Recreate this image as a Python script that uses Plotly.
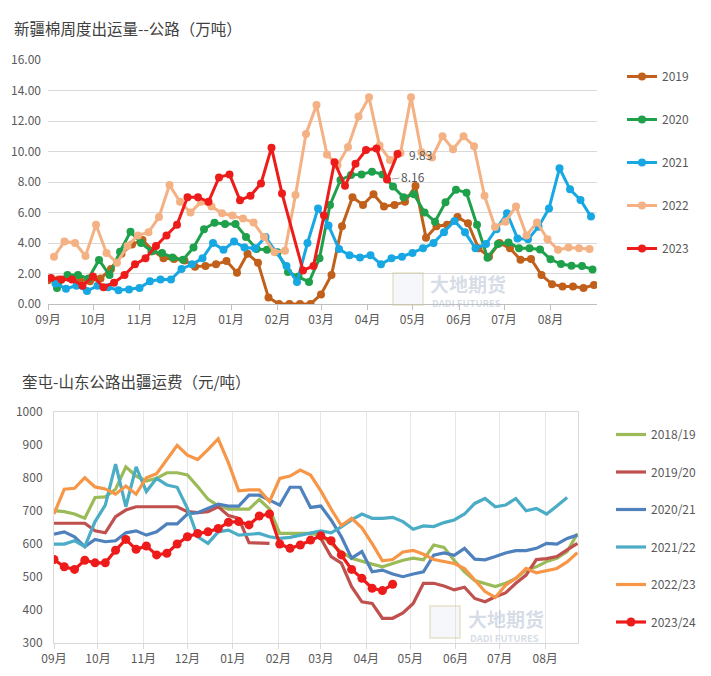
import plotly.graph_objects as go
import pandas as pd

W, H = 711, 676

# ---------------- top chart data (万吨, weekly) ----------------
top_names = ["2019", "2020", "2021", "2022", "2023"]
top_colors = ["#C0601A", "#1FA04B", "#17A8E3", "#F4B183", "#EE1B1B"]
top_start = ["2023-09-01", "2023-09-07", "2023-09-06", "2023-09-05", "2023-09-03"]

y2019 = [1.55, 1.6, 1.7, 1.6, 1.5, 1.68, 2.3, 3.3, 3.9, 4.2,
         3.5, 3.0, 2.95, 2.85, 2.45, 2.5, 2.6, 2.82, 2.05, 3.3,
         2.7, 0.42, 0, 0, 0, 0, 0.63, 1.9, 5.1, 7.0,
         6.5, 7.2, 6.4, 6.5, 6.7, 7.74, 4.35, 5.1, 5.2, 5.7,
         5.3, 3.65, 3.1, 4.0, 3.65, 2.9, 2.95, 1.9, 1.3, 1.15,
         1.15, 1.05, 1.25]
y2020 = [1.05, 1.9, 1.9, 1.68, 2.89, 1.9, 3.43, 4.74, 4.0, 3.45,
         3.35, 3.05, 2.9, 3.7, 4.9, 5.33, 5.25, 5.25, 4.4, 3.6,
         3.55, 3.4, 2.1, 1.8, 1.45, 3.0, 6.5, 8.13, 8.46, 8.5,
         8.68, 8.5, 7.7, 7.0, 7.2, 6.0, 5.4, 6.67, 7.5, 7.3,
         5.2, 3.04, 3.93, 4.04, 3.65, 3.65, 3.58, 2.93, 2.62, 2.51,
         2.49, 2.27]
y2021 = [1.35, 1.0, 1.2, 0.85, 1.2, 1.1, 0.9, 0.95, 1.05, 1.5,
         1.6, 1.6, 2.3, 2.6, 3.0, 4.0, 3.55, 4.1, 3.7, 3.65,
         4.4, 3.4, 2.5, 1.45, 4.0, 6.27, 5.15, 3.6, 3.2, 3.05,
         3.2, 2.6, 3.0, 3.1, 3.35, 3.65, 4.0, 4.7, 5.45, 4.7,
         3.65, 3.93, 4.9, 5.95, 4.3, 4.24, 5.07, 6.27, 8.9, 7.52,
         6.82, 5.73]
y2022 = [3.1, 4.1, 4.0, 3.15, 5.2, 3.35, 2.7, 3.8, 4.5, 4.7,
         5.7, 7.8, 6.7, 6.0, 6.7, 6.4, 5.95, 5.8, 5.6, 5.35,
         4.4, 3.4, 3.5, 7.15, 11.15, 13.05, 9.8, 9.1, 10.3, 12.3,
         13.55, 10.4, 9.45, 9.9, 13.55, 9.95, 9.6, 11.0, 10.15, 11.0,
         10.35, 7.1, 5.05, 5.4, 6.4, 4.5, 5.35, 4.25, 3.55, 3.7,
         3.65, 3.6]
y2023 = [1.7, 1.6, 1.6, 1.2, 1.8, 1.1, 1.4, 1.9, 2.6, 3.0,
         3.8, 4.5, 5.2, 7.0, 7.0, 6.7, 8.3, 8.5, 6.8, 7.1,
         7.9, 10.25, 7.25, None, 2.2, 2.5, 5.8, 9.3, 7.75, 9.2,
         10.1, 10.2, 8.16, 9.83]
top_values = [y2019, y2020, y2021, y2022, y2023]

# ---------------- bottom chart data (元/吨, weekly) ----------------
bot_names = ["2018/19", "2019/20", "2020/21", "2021/22", "2022/23", "2023/24"]
bot_colors = ["#9BBB59", "#C0504D", "#4F81BD", "#4BACC6", "#F79646", "#EE1B1B"]
bot_start = "2023-09-01"

b1819 = [700, 697, 690, 677, 740, 742, 765, 833, 805, 790,
         798, 815, 815, 808, 773, 735, 715, 705, 705, 705,
         734, 705, 631, 631, 631, 631, 625, 600, 575, 556,
         546, 538, 530, 540, 550, 556, 551, 596, 589, 549,
         515, 488, 480, 470, 480, 495, 520, 530, 546, 556,
         576, 631]
b1920 = [662, 662, 664, 662, 639, 633, 682, 702, 712, 712,
         710, 710, 712, 697, 694, 697, 712, 685, 677, 603,
         601, 601, None, None, None, None, 616, 561, 541, 470,
         424, 419, 374, 374, 390, 419, 480, 480, 472, 460,
         468, 434, 424, 439, 451, 480, 505, 552, 555, 561,
         581, 601]
b2021 = [629, 636, 621, 591, 613, 606, 609, 633, 639, 626,
         636, 660, 660, 690, 694, 707, 720, 714, 714, 747,
         747, 732, 717, 771, 771, 710, 714, 672, 621, 556,
         576, 515, 520, 508, 500, 508, 515, 565, 572, 565,
         586, 553, 551, 561, 572, 579, 579, 586, 601, 599,
         616, 626]
b2122 = [599, 599, 609, 591, 667, 717, 841, 712, 833, 758,
         798, 778, 771, 707, 621, 601, 636, 641, 626, 629,
         631, 621, 616, 619, 626, 634, 639, 633, 651, 672,
         690, 677, 677, 680, 667, 644, 654, 652, 664, 672,
         690, 722, 737, 712, 717, 737, 700, 707, 690, 714,
         740]
b2223 = [690, 765, 768, 800, 772, 766, 750, 775, 750, 800,
         812, 855, 898, 868, 855, 885, 918, 845, 760, 763,
         763, 728, 798, 805, 823, 808, 760, 705, 655, 677,
         648, 600, 548, 552, 575, 580, 568, 552, 545, 540,
         525, 490, 455, 437, 474, 495, 525, 512, 518, 525,
         545, 573]
b2324 = [552, 530, 522, 550, 542, 542, 580, 613, 583, 593,
         566, 571, 599, 621, 631, 636, 646, 665, 667, 657,
         684, 690, 599, 586, 596, 611, 624, 609, 566, 522,
         495, 465, 458, 477]
bot_values = [b1819, b1920, b2021, b2122, b2223, b2324]

month_ticks = ["2023-09-01", "2023-10-01", "2023-11-01", "2023-12-01", "2024-01-01",
               "2024-02-01", "2024-03-01", "2024-04-01", "2024-05-01", "2024-06-01",
               "2024-07-01", "2024-08-01"]
month_labels = ["09月", "10月", "11月", "12月", "01月", "02月", "03月", "04月",
                "05月", "06月", "07月", "08月"]

FONT = "Noto Sans CJK SC"
TXT = "#595959"


def px_x(p):
    return p / W


def px_y(p):
    return 1 - p / H


def weekly(start, n):
    return pd.date_range(start, periods=n, freq="7D")


fig = go.Figure()

for name, col, st, vals in zip(top_names, top_colors, top_start, top_values):
    fig.add_trace(go.Scatter(
        x=weekly(st, len(vals)), y=vals, name=name, mode="lines+markers",
        line=dict(color=col, width=3), marker=dict(color=col, size=8),
        connectgaps=True, xaxis="x", yaxis="y", legend="legend", legendgroup=name))

for name, col, vals in zip(bot_names, bot_colors, bot_values):
    is_cur = name == bot_names[-1]
    fig.add_trace(go.Scatter(
        x=weekly(bot_start, len(vals)), y=vals, name=name,
        mode="lines+markers" if is_cur else "lines",
        line=dict(color=col, width=3.2), marker=dict(color=col, size=9),
        connectgaps=False, xaxis="x2", yaxis="y2", legend="legend2", legendgroup=name))

# data labels on the last two 2023 points
red_dates = weekly(top_start[-1], len(y2023))
annotations = [
    dict(x=red_dates[-1], y=y2023[-1], xref="x", yref="y", text=f"{y2023[-1]:.2f}",
         showarrow=False, xanchor="left", xshift=9, font=dict(size=12, color=TXT, family=FONT)),
    dict(x=red_dates[-2], y=y2023[-2], xref="x", yref="y", text=f"{y2023[-2]:.2f}",
         showarrow=True, arrowhead=0, arrowwidth=1, arrowcolor="#A6A6A6", ax=26, ay=-3,
         standoff=5, font=dict(size=12, color=TXT, family=FONT)),
    dict(x=px_x(12), y=px_y(28), xref="paper", yref="paper", text="新疆棉周度出运量--公路（万吨）",
         showarrow=False, xanchor="left", yanchor="middle",
         font=dict(size=15.5, color="#404040", family=FONT)),
    dict(x=px_x(20), y=px_y(381), xref="paper", yref="paper", text="奎屯-山东公路出疆运费（元/吨）",
         showarrow=False, xanchor="left", yanchor="middle",
         font=dict(size=15.5, color="#404040", family=FONT)),
]
# watermarks
WM = "rgba(165,178,200,0.45)"
for (xl, yc) in [(428, 283), (466, 618)]:
    annotations.append(dict(x=px_x(xl), y=px_y(yc), xref="paper", yref="paper", text="<b>大地期货</b>",
                            showarrow=False, xanchor="left", yanchor="middle",
                            font=dict(size=19, color=WM, family=FONT)))
    annotations.append(dict(x=px_x(xl + 2), y=px_y(yc + 19.5), xref="paper", yref="paper",
                            text="<b>DADI FUTURES</b>", showarrow=False, xanchor="left", yanchor="middle",
                            font=dict(size=9.5, color=WM, family=FONT)))

shapes = []
for (xl, yt) in [(393, 273), (430, 606)]:
    shapes.append(dict(type="rect", xref="paper", yref="paper",
                       x0=px_x(xl), x1=px_x(xl + 30), y0=px_y(yt + 32), y1=px_y(yt),
                       line=dict(color="rgba(205,195,140,0.35)", width=2),
                       fillcolor="rgba(215,222,235,0.25)", layer="above"))

axis_font = dict(size=12, color=TXT, family=FONT)

fig.update_layout(
    width=W, height=H, margin=dict(l=0, r=0, t=0, b=0, autoexpand=False),
    paper_bgcolor="white", plot_bgcolor="rgba(0,0,0,0)",
    font=dict(family=FONT, color=TXT),
    showlegend=True,
    annotations=annotations, shapes=shapes,
    xaxis=dict(domain=[px_x(48), px_x(597)], type="date",
               range=["2023-09-01", "2024-09-01"],
               tickvals=month_ticks, ticktext=month_labels,
               ticks="outside", ticklen=5, tickcolor="#BFBFBF",
               showline=True, linecolor="#BFBFBF", linewidth=1,
               showgrid=False, zeroline=False, tickfont=axis_font, anchor="y",
               automargin=False),
    yaxis=dict(domain=[px_y(304), px_y(60)], range=[0, 16], dtick=2, tick0=0,
               tickformat=".2f", showgrid=True, gridcolor="#D9D9D9", gridwidth=1,
               zeroline=False, showline=False, tickfont=axis_font, anchor="x",
               ticks="", ticklabelstandoff=6, automargin=False),
    xaxis2=dict(domain=[px_x(54), px_x(578)], type="date",
                range=["2023-09-01", "2024-08-23 10:00"],
                tickvals=month_ticks, ticktext=month_labels,
                ticks="outside", ticklen=5, tickcolor="#D9D9D9",
                showline=True, mirror=True, linecolor="#D9D9D9", linewidth=1,
                showgrid=True, gridcolor="#E6E6E6", gridwidth=1,
                zeroline=False, tickfont=axis_font, anchor="y2", automargin=False),
    yaxis2=dict(domain=[px_y(642.7), px_y(411.7)], range=[300, 1000], dtick=100,
                showgrid=False, zeroline=False, showline=True, mirror=True,
                linecolor="#D9D9D9", linewidth=1, tickfont=axis_font, anchor="x2",
                ticks="", ticklabelstandoff=8, automargin=False),
    legend=dict(x=px_x(622), y=px_y(62), xanchor="left", yanchor="top",
                bgcolor="rgba(0,0,0,0)", tracegroupgap=24, traceorder="grouped",
                font=dict(size=12, color=TXT, family=FONT), itemwidth=30),
    legend2=dict(x=px_x(611), y=px_y(420), xanchor="left", yanchor="top",
                 bgcolor="rgba(0,0,0,0)", tracegroupgap=18.5, traceorder="grouped",
                 font=dict(size=12, color=TXT, family=FONT), itemwidth=30),
)

fig.write_html("out.html")
